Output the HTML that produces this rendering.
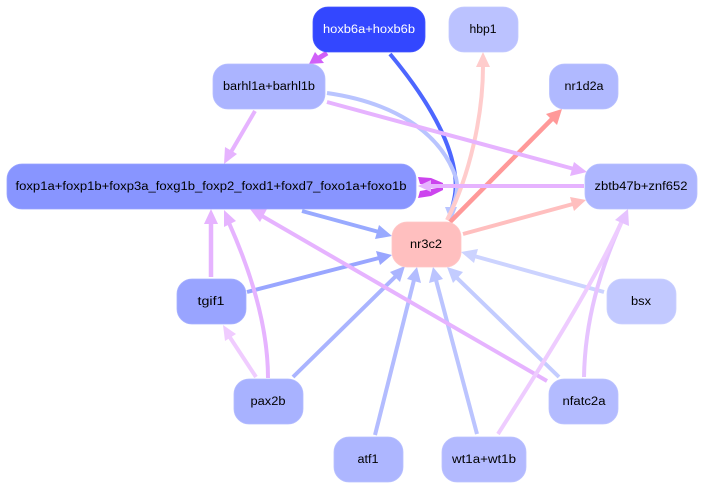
<!DOCTYPE html>
<html><head><meta charset="utf-8"><style>
html,body{margin:0;padding:0;background:#fff;width:704px;height:489px;overflow:hidden}
svg{display:block}
text{font-family:"Liberation Sans",sans-serif;font-size:11.5px;text-anchor:middle;fill:#000}
path{fill:none;stroke-linecap:butt}
rect{stroke-width:.8}
</style></head><body>
<svg width="704" height="489" viewBox="0 0 704 489" xmlns="http://www.w3.org/2000/svg">
<!-- edges -->
<path d="M327 53L319 58" stroke="#d060f8" stroke-width="5"/>
<polygon points="309,64 315,52 324,63" fill="#d060f8"/>
<path d="M390 54C420 90 450 135 455 175C457 190 454 200 452 208" stroke="#4d66ff" stroke-width="4"/>
<path d="M327 93C390 102 440 130 456 178C459 190 455 200 452 208" stroke="#b9c4ff" stroke-width="4"/>
<polygon points="451,222 445,207 457,207" fill="#b9c4ff"/>
<path d="M447 220C470 175 483 115 483 66" stroke="#ffcccc" stroke-width="4"/>
<polygon points="483,52 476,67 490,67" fill="#ffcccc"/>
<path d="M450 222L553 118" stroke="#ff9999" stroke-width="4.500"/>
<polygon points="562,109 557,125 546,114" fill="#ff9999"/>
<path d="M463 234L573 204" stroke="#ffbfbf" stroke-width="4"/>
<polygon points="586,200 574,211 570,197" fill="#ffbfbf"/>
<path d="M327 102L574 169" stroke="#e6b3ff" stroke-width="4"/>
<polygon points="587,172 570,176 574,162" fill="#e6b3ff"/>
<polygon points="418,177 431,178 443,183 443,186 431,185 420,184" fill="#cc44ee"/>
<polygon points="418,198 431,196 443,190 443,187 431,189 420,191" fill="#cc44ee"/>
<path d="M584 186L428 186" stroke="#e6b3ff" stroke-width="4"/>
<polygon points="418,186 431,180 431,192" fill="#e6b3ff"/>
<path d="M302 211L379 232" stroke="#99aaff" stroke-width="4"/>
<polygon points="392,236 375,239 379,225" fill="#99aaff"/>
<path d="M247 292L379 258" stroke="#99a6ff" stroke-width="4"/>
<polygon points="392,255 380,265 376,251" fill="#99a6ff"/>
<path d="M211 277L211 222" stroke="#e6b3ff" stroke-width="4.500"/>
<polygon points="211,209 204,224 218,224" fill="#e6b3ff"/>
<path d="M268 378C268 325 250 270 229 223" stroke="#e6b3ff" stroke-width="4"/>
<polygon points="224,210 236,221 224,227" fill="#e6b3ff"/>
<path d="M256 377L229 336" stroke="#f0ccff" stroke-width="4"/>
<polygon points="223,325 236,334 225,341" fill="#f0ccff"/>
<path d="M293 377L396 276" stroke="#aab4ff" stroke-width="4"/>
<polygon points="405,266 400,282 390,272" fill="#aab4ff"/>
<path d="M375 435L414 280" stroke="#b3bcff" stroke-width="4"/>
<polygon points="417,267 421,283 407,279" fill="#b3bcff"/>
<path d="M477 434L436 280" stroke="#bbc4ff" stroke-width="4"/>
<polygon points="433,267 443,279 429,283" fill="#bbc4ff"/>
<path d="M559 377L456 277" stroke="#c3ccff" stroke-width="4"/>
<polygon points="447,267 463,272 453,283" fill="#c3ccff"/>
<path d="M604 292L474 256" stroke="#ccd3ff" stroke-width="4"/>
<polygon points="461,252 478,249 474,263" fill="#ccd3ff"/>
<path d="M547 381L262 216" stroke="#e6b3ff" stroke-width="4"/>
<polygon points="250,209 267,209 260,222" fill="#e6b3ff"/>
<path d="M584 377C585 320 600 270 622 221" stroke="#e6c3ff" stroke-width="4"/>
<path d="M498 434C545 360 590 290 622 221" stroke="#eeccff" stroke-width="4"/>
<polygon points="628,209 629,226 615,220" fill="#e6c3ff"/>
<path d="M255 111L231 152" stroke="#e6b3ff" stroke-width="4"/>
<polygon points="224,164 225,147 237,154" fill="#e6b3ff"/>
<!-- nodes -->
<rect x="313" y="7" width="112" height="45" rx="15" fill="#3347ff" stroke="#4557ff"/>
<rect x="449" y="7" width="69" height="45" rx="15" fill="#bbc2ff" stroke="#c4caff"/>
<rect x="549.500" y="64" width="68.500" height="45" rx="15" fill="#b0b9ff" stroke="#bac2ff"/>
<rect x="213" y="64" width="112" height="45" rx="15" fill="#abb4ff" stroke="#b6beff"/>
<rect x="7" y="164" width="409" height="45" rx="15" fill="#8895ff" stroke="#98a3ff"/>
<rect x="585" y="164" width="112" height="45" rx="15" fill="#adb6ff" stroke="#b8c0ff"/>
<rect x="392" y="222" width="69" height="45" rx="15" fill="#ffbfbf" stroke="#ffc8c8"/>
<rect x="177" y="279" width="69" height="45" rx="15" fill="#99a4ff" stroke="#a7b1ff"/>
<rect x="234" y="379" width="69" height="45" rx="15" fill="#a8b2ff" stroke="#b4bcff"/>
<rect x="334" y="437" width="69" height="45" rx="15" fill="#adb6ff" stroke="#b8c0ff"/>
<rect x="442" y="437" width="84" height="45" rx="15" fill="#b3baff" stroke="#bdc3ff"/>
<rect x="549" y="379" width="69" height="45" rx="15" fill="#b3bbff" stroke="#bdc4ff"/>
<rect x="607" y="279" width="69" height="45" rx="15" fill="#c2c9ff" stroke="#cbd1ff"/>
<!-- labels -->
<text x="369" y="33" style="fill:#fff" textLength="92" lengthAdjust="spacingAndGlyphs">hoxb6a+hoxb6b</text>
<text x="483" y="33" textLength="27" lengthAdjust="spacingAndGlyphs">hbp1</text>
<text x="584" y="90" textLength="39" lengthAdjust="spacingAndGlyphs">nr1d2a</text>
<text x="269" y="90" textLength="92" lengthAdjust="spacingAndGlyphs">barhl1a+barhl1b</text>
<text x="211" y="190" textLength="391" lengthAdjust="spacingAndGlyphs">foxp1a+foxp1b+foxp3a_foxg1b_foxp2_foxd1+foxd7_foxo1a+foxo1b</text>
<text x="641" y="190" textLength="93" lengthAdjust="spacingAndGlyphs">zbtb47b+znf652</text>
<text x="426" y="248" textLength="32" lengthAdjust="spacingAndGlyphs">nr3c2</text>
<text x="211" y="305" textLength="27" lengthAdjust="spacingAndGlyphs">tgif1</text>
<text x="268" y="405" textLength="35" lengthAdjust="spacingAndGlyphs">pax2b</text>
<text x="368" y="463" textLength="21" lengthAdjust="spacingAndGlyphs">atf1</text>
<text x="484" y="463" textLength="64" lengthAdjust="spacingAndGlyphs">wt1a+wt1b</text>
<text x="584" y="405" textLength="43" lengthAdjust="spacingAndGlyphs">nfatc2a</text>
<text x="641" y="305" textLength="20" lengthAdjust="spacingAndGlyphs">bsx</text>
</svg>
</body></html>
